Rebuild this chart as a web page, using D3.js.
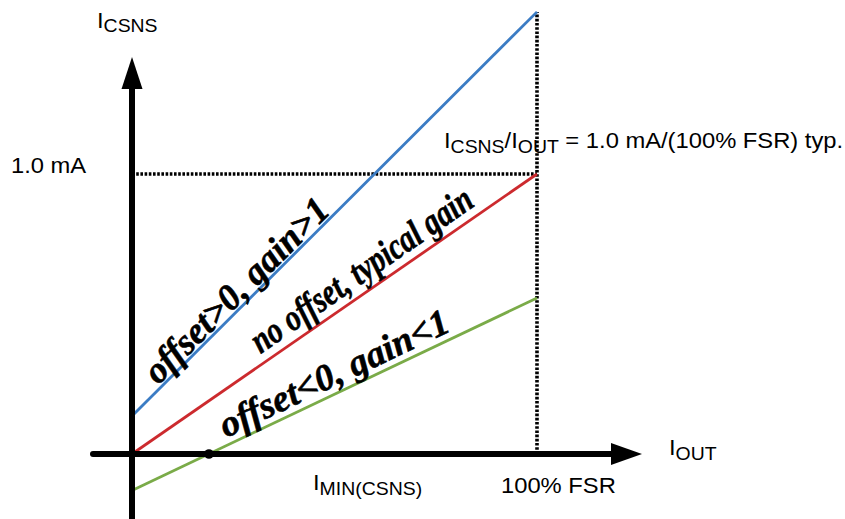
<!DOCTYPE html>
<html><head><meta charset="utf-8">
<script src="https://cdn.jsdelivr.net/npm/d3@7"></script>
<style>body{margin:0;background:#fff}svg{display:block}</style>
</head><body><svg id="c" width="845" height="519"></svg>
<script>
// ---- data ----
const xDomain = [0, 100];            // IOUT in % FSR
const yDomain = [0, 1.0];            // ICSNS in mA
const seriesNames = ["offset>0, gain>1", "no offset, typical gain", "offset<0, gain<1"];
const seriesStart = [0.136, 0.0, -0.13];   // ICSNS at 0% FSR (mA)
const seriesEnd   = [1.579, 1.0, 0.557];   // ICSNS at 100% FSR (mA)
const seriesColors = ["#3b7cc4", "#cc2a2e", "#7aab48"];
const labelAt = [7.0, 33.0, 24.0];         // label start along IOUT (% FSR)
const labelGap = [3, 9, 7];                // label offset from the line (px)
const labelLen = [245, 262, 250];
const iMin = 19;                           // IMIN(CSNS) (% FSR)
const fullScale = 100;                     // 100% FSR
const refCurrent = 1.0;                    // 1.0 mA

const svg = d3.select("#c");
const x = d3.scaleLinear().domain(xDomain).range([132, 537]);
const y = d3.scaleLinear().domain(yDomain).range([454, 174]);
const SX = 1.08; // horizontal stretch of the reference's text

// dotted guides
const dot = {stroke:"#000","stroke-width":3.6,"stroke-dasharray":"2.6,1.6"};
const gH = svg.append("line").attr("x1", x(0)).attr("x2", x(fullScale)).attr("y1", y(refCurrent)).attr("y2", y(refCurrent));
const gV = svg.append("line").attr("x1", x(fullScale)).attr("x2", x(fullScale)).attr("y1", y(0)).attr("y2", y(seriesEnd[0]));
for (const g of [gH, gV]) for (const k in dot) g.attr(k, dot[k]);

// series lines
const line = d3.line().x(d => x(d[0])).y(d => y(d[1]));
seriesNames.forEach((n, i) => {
  svg.append("path").attr("d", line([[0, seriesStart[i]], [100, seriesEnd[i]]]))
    .attr("stroke", seriesColors[i]).attr("stroke-width", 2.8).attr("fill", "none");
});

// axes
svg.append("line").attr("x1", x(0)).attr("x2", x(0)).attr("y1", 519).attr("y2", 80)
  .attr("stroke", "#000").attr("stroke-width", 6);
svg.append("path").attr("d", `M${x(0)},57 L${x(0)-10.5},89 L${x(0)+10.5},89 Z`).attr("fill", "#000");
svg.append("line").attr("x1", 93).attr("x2", 620).attr("y1", y(0)).attr("y2", y(0))
  .attr("stroke", "#000").attr("stroke-width", 6).attr("stroke-linecap", "round");
svg.append("path").attr("d", `M642,${y(0)} L611,${y(0)-11} L611,${y(0)+11} Z`).attr("fill", "#000");

// IMIN dot
svg.append("circle").attr("cx", x(iMin)).attr("cy", y(0)).attr("r", 4.8).attr("fill", "#000");

// series labels
seriesNames.forEach((n, i) => {
  const slope = (y(seriesEnd[i]) - y(seriesStart[i])) / (x(100) - x(0));
  const ang = Math.atan(slope) * 180 / Math.PI;
  const v = seriesStart[i] + (seriesEnd[i] - seriesStart[i]) * labelAt[i] / 100;
  const px = x(labelAt[i]), py = y(v);
  const r = Math.atan(slope);
  const ox = px + Math.sin(r) * labelGap[i], oy = py - Math.cos(r) * labelGap[i];
  svg.append("text").attr("transform", `translate(${ox},${oy}) rotate(${ang})`)
    .attr("font-family", "'Liberation Serif', 'Times New Roman', serif")
    .attr("font-style", "italic").attr("font-weight", "bold").attr("font-size", 37)
    .attr("textLength", labelLen[i]).attr("lengthAdjust", "spacingAndGlyphs")
    .attr("stroke", "#000").attr("stroke-width", 0.6)
    .attr("fill", "#000").text(n);
});

// plain text labels
function sublabel(tx, ty, parts) {
  const t = svg.append("text").attr("transform", `translate(${tx},${ty}) scale(${SX},1)`)
    .attr("font-family", "'Liberation Sans', Arial, sans-serif").attr("fill", "#000");
  parts.forEach(p => {
    t.append("tspan").attr("font-size", p.sub ? 18 : 22)
      .attr("dy", p.dy || 0).text(p.t);
  });
  return t;
}
sublabel(97, 28, [{t:"I"}, {t:"CSNS", sub:true, dy:4}]);
sublabel(669, 455, [{t:"I"}, {t:"OUT", sub:true, dy:5}]);
sublabel(313, 490, [{t:"I"}, {t:"MIN(CSNS)", sub:true, dy:5}]);
sublabel(11, 173, [{t:"1.0 mA"}]);
sublabel(x(fullScale) - 36, 493, [{t:"100% FSR"}]);
sublabel(444, 148, [{t:"I"}, {t:"CSNS", sub:true, dy:5}, {t:"/", dy:-5}, {t:"I"}, {t:"OUT", sub:true, dy:5}, {t:" = 1.0 mA/(100% FSR) typ.", dy:-5}]);
</script></body></html>
